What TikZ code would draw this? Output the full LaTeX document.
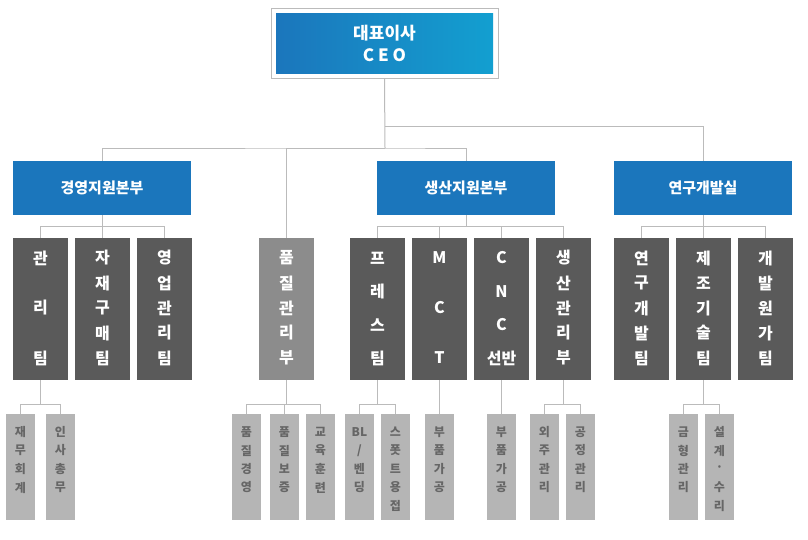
\documentclass[tikz,border=0pt]{standalone}
\usepackage{fontspec}
\setmainfont{Noto Sans CJK KR}
\usetikzlibrary{positioning}
\definecolor{orgblue}{HTML}{1B76BC}
\definecolor{orgdark}{HTML}{5A5A5A}
\definecolor{orgmid}{HTML}{8C8C8C}
\definecolor{orglight}{HTML}{B5B5B5}
\definecolor{orgtxt}{HTML}{666666}
\definecolor{orgline}{HTML}{BBBBBB}
\tikzset{
  lvone/.style={fill=orgblue,minimum width=178pt,minimum height=54pt,text=white,font=\bfseries\fontsize{15}{15}\selectfont,inner sep=0pt},
  lvtwo/.style={fill=orgdark,minimum width=55pt,minimum height=142pt,inner sep=0pt},
  lvthree/.style={fill=orglight,minimum width=29pt,minimum height=106pt,inner sep=0pt},
  chtwo/.style={text=white,font=\bfseries\fontsize{16}{16}\selectfont,inner sep=0pt},
  chthree/.style={text=orgtxt,font=\bfseries\fontsize{12}{12}\selectfont,inner sep=0pt},
  conn/.style={draw=orgline,line width=1pt}
}
\begin{document}
\begin{tikzpicture}[x=1pt,y=-1pt]
\useasboundingbox (0,0) rectangle (808,539);
% ceo
\node[draw=orgline,fill=white,minimum width=227pt,minimum height=70pt] (ceof) at (384.5,43) {};
\node[left color=orgblue,right color=orgblue!70!cyan,minimum width=217pt,minimum height=60pt,text=white,align=center,font=\bfseries\fontsize{17}{22}\selectfont] (ceo) at (384.5,43) {대표이사\\C\ E\ O};
% level one
\node[lvone] (gy) at (102,188) {경영지원본부};
\node[lvone] (sc) at (466,188) {생산지원본부};
\node[lvone] (yg) at (703,188) {연구개발실};
\coordinate (j1) at (385,148);
\coordinate (j2) at (385,126);
\draw[conn] (ceof.south) -- (j1);
\draw[conn] (j2) -| (yg.north);
\draw[conn] (gy.north) |- (j1) -| (sc.north);
% level two
\foreach \nm/\x/\n/\cs in {gw/40.5/3/{관,리,팀},ja/102.5/5/{자,재,구,매,팀},yo/164.5/5/{영,업,관,리,팀},pq/286.5/5/{품,질,관,리,부},pr/377.5/4/{프,레,스,팀},mc/439.5/3/{M,C,T},cn/501.5/4/{C,N,C,선반},sg/563.5/5/{생,산,관,리,부},yd/641.5/5/{연,구,개,발,팀},jj/703.5/5/{제,조,기,술,팀},gc/765.5/5/{개,발,원,가,팀}}{
  \node[lvtwo] (\nm) at (\x,309) {};
  \foreach \c [count=\i] in \cs
    \node[chtwo] (\nm-\i) at (\x,{258+(\i-1)*100/(\n-1)}) {\c};
}
\fill[orgmid] (pq.north west) rectangle (pq.south east);
\foreach \i/\c in {1/품,2/질,3/관,4/리,5/부}
  \node[chtwo] (pq-\i) at (286.5,{258+(\i-1)*25}) {\c};
\draw[conn] (pq.north) |- (j1);
\foreach \p/\a/\b in {gy/gw/yo,sc/pr/sg,yg/yd/gc}{
  \draw[conn] (\p.south) -- ++(0,11) coordinate (\p-bus);
  \draw[conn] (\a.north) |- (\p-bus) -| (\b.north);
}
\draw[conn] (ja.north) -- (ja.north |- gy-bus);
\draw[conn] (mc.north) -- (mc.north |- sc-bus);
\draw[conn] (cn.north) -- (cn.north |- sc-bus);
\draw[conn] (jj.north) -- (jj.north |- yg-bus);
% level three
\foreach \nm/\x/\cs in {jm/20.5/{재,무,회,계},is/60.5/{인,사,총,무},qa/246.5/{품,질,경,영},qb/284.5/{품,질,보,증},ed/320.5/{교,육,훈,련},bl/359.5/{BL,/,벤,딩},sp/395.5/{스,폿,트,용,접},ba/439.5/{부,품,가,공},bb/501.5/{부,품,가,공},oj/544.5/{외,주,관,리},gj/580.5/{공,정,관,리},gm/683.5/{금,형,관,리},sl/719.5/{설,계,·,수,리}}{
  \node[lvthree] (\nm) at (\x,467) {};
  \foreach \c [count=\i] in \cs
    \node[chthree] (\nm-\i) at (\x,{432+(\i-1)*18.5}) {\c};
}
\foreach \p/\a/\b in {gw/jm/is,pq/qa/ed,pr/bl/sp,sg/oj/gj,jj/gm/sl}{
  \draw[conn] (\p.south) -- ++(0,24) coordinate (\p-bus);
  \draw[conn] (\a.north) |- (\p-bus) -| (\b.north);
}
\draw[conn] (qb.north) -- (qb.north |- pq-bus);
\draw[conn] (mc.south) -- (ba.north);
\draw[conn] (cn.south) -- (bb.north);
\end{tikzpicture}
\end{document}
